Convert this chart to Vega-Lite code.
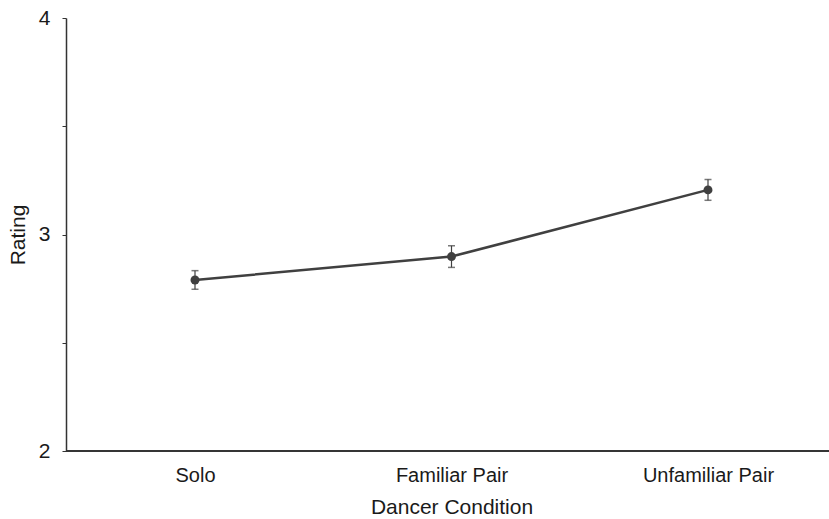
{
  "$schema": "https://vega.github.io/schema/vega-lite/v6.json",
  "width": 763,
  "height": 433,
  "autosize": "none",
  "padding": {"left": 66, "top": 18, "right": 0, "bottom": 68},
  "background": "white",
  "config": {
    "view": {"stroke": null},
    "font": "Liberation Sans",
    "axis": {"grid": false, "domainColor": "#333333", "tickColor": "#333333", "labelColor": "#1a1a1a", "titleColor": "#1a1a1a", "labelFont": "Liberation Sans", "titleFont": "Liberation Sans", "titleFontWeight": "normal", "domainWidth": 1.5}
  },
  "data": {
    "values": [
      {"condition": "Solo", "rating": 2.79, "lo": 2.747, "hi": 2.833},
      {"condition": "Familiar Pair", "rating": 2.898, "lo": 2.848, "hi": 2.948},
      {"condition": "Unfamiliar Pair", "rating": 3.206, "lo": 3.158, "hi": 3.254}
    ]
  },
  "encoding": {
    "x": {
      "field": "condition", "type": "nominal", "sort": null,
      "scale": {"type": "point", "range": [129, 642], "padding": 0},
      "axis": {"title": "Dancer Condition", "labelAngle": 0, "ticks": false, "domain": false, "labelFontSize": 20, "labelPadding": 14, "titleFontSize": 21, "titlePadding": 11}
    }
  },
  "layer": [
    {
      "mark": {"type": "rule", "color": "#333333", "strokeWidth": 1.5},
      "encoding": {"y": {"datum": 2, "type": "quantitative"}, "x": null}
    },
    {
      "mark": {"type": "line", "color": "#404040", "strokeWidth": 2.5},
      "encoding": {
        "y": {
          "field": "rating", "type": "quantitative",
          "scale": {"domain": [2, 4], "zero": false, "nice": false},
          "axis": {"title": "Rating", "values": [2, 2.5, 3, 3.5, 4], "labelExpr": "datum.value % 1 === 0 ? format(datum.value, 'd') : ''", "tickSize": 4, "labelFontSize": 21, "labelPadding": 12, "titleFontSize": 21, "titleX": -48, "titleBaseline": "middle", "titleAlign": "center"}
        }
      }
    },
    {
      "mark": {"type": "rule", "color": "#404040", "strokeWidth": 1.2},
      "encoding": {"y": {"field": "lo", "type": "quantitative"}, "y2": {"field": "hi"}}
    },
    {
      "mark": {"type": "tick", "color": "#404040", "size": 7, "thickness": 1.5},
      "encoding": {"y": {"field": "lo", "type": "quantitative"}}
    },
    {
      "mark": {"type": "tick", "color": "#404040", "size": 7, "thickness": 1.5},
      "encoding": {"y": {"field": "hi", "type": "quantitative"}}
    },
    {
      "mark": {"type": "point", "filled": true, "color": "#404040", "size": 80, "opacity": 1},
      "encoding": {"y": {"field": "rating", "type": "quantitative"}}
    }
  ]
}
